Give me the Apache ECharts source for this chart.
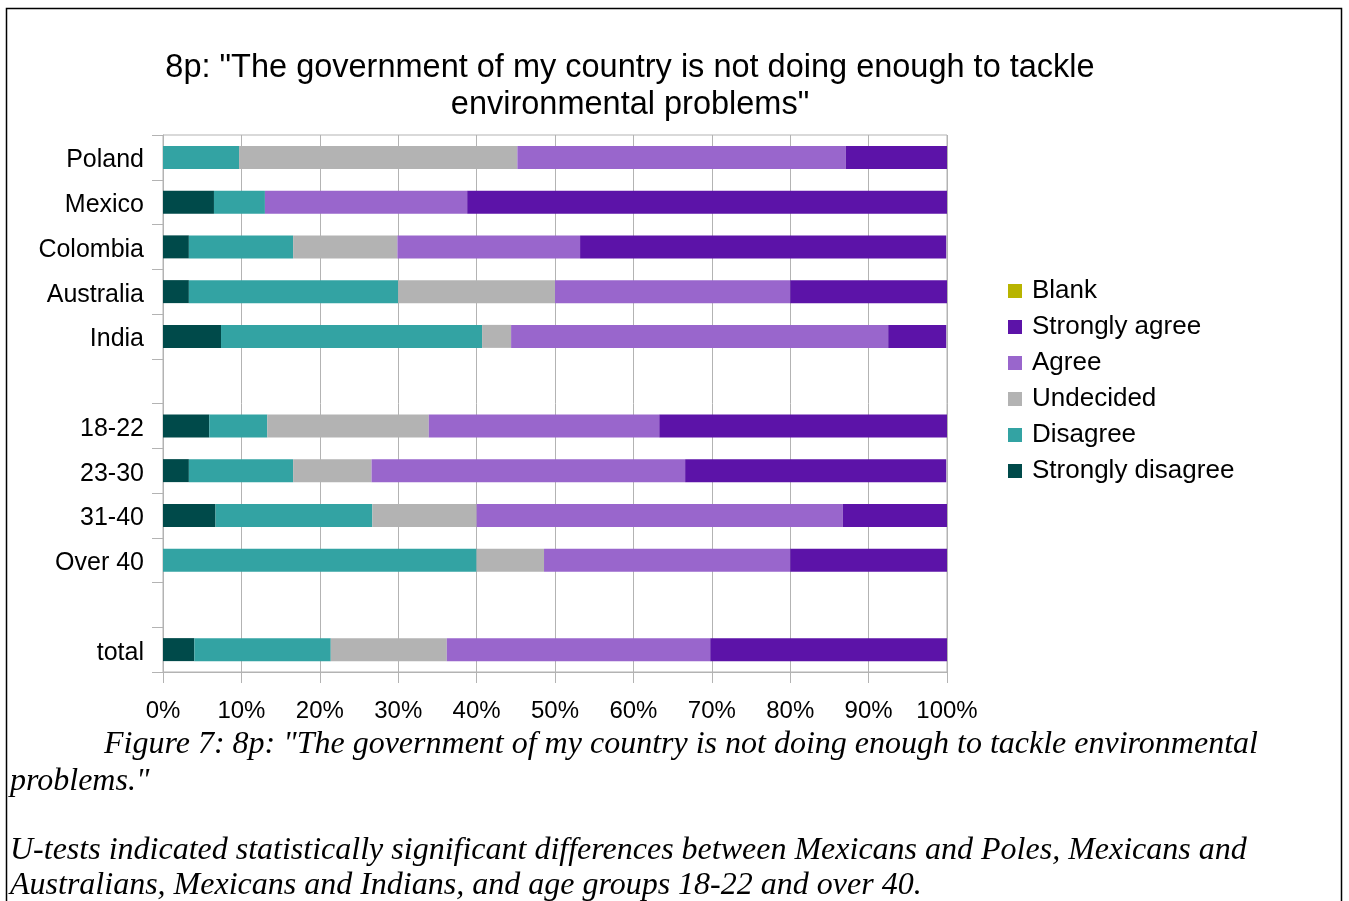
<!DOCTYPE html>
<html>
<head>
<meta charset="utf-8">
<script src="https://cdn.jsdelivr.net/npm/echarts@6/dist/echarts.min.js"></script>
<style>
  html, body { margin: 0; padding: 0; background: #fff; }
  #chart { width: 1349px; height: 901px; }
</style>
</head>
<body>
<div id="chart"></div>
<script>
const categories = ['Poland', 'Mexico', 'Colombia', 'Australia', 'India', '', '18-22', '23-30', '31-40', 'Over 40', '', 'total'];
const stronglyDisagree = [0, 6.5, 3.3, 3.3, 7.4, null, 5.9, 3.3, 6.7, 0, null, 4.0];
const disagree = [9.7, 6.5, 13.3, 26.7, 33.3, null, 7.4, 13.3, 20.0, 40.0, null, 17.4];
const undecided = [35.5, 0, 13.3, 20.0, 3.7, null, 20.6, 10.0, 13.3, 8.6, null, 14.8];
const agree = [41.9, 25.8, 23.3, 30.0, 48.1, null, 29.4, 40.0, 46.7, 31.4, null, 33.6];
const stronglyAgree = [12.9, 61.3, 46.7, 20.0, 7.4, null, 36.8, 33.3, 13.3, 20.0, null, 30.2];
const blank = [0, 0, 0, 0, 0, null, 0, 0, 0, 0, null, 0];
const xTicks = [0, 10, 20, 30, 40, 50, 60, 70, 80, 90, 100];

const seriesDefs = [
  { name: 'Strongly disagree', data: stronglyDisagree, color: '#004a4a' },
  { name: 'Disagree', data: disagree, color: '#33a3a3' },
  { name: 'Undecided', data: undecided, color: '#b3b3b3' },
  { name: 'Agree', data: agree, color: '#9966cc' },
  { name: 'Strongly agree', data: stronglyAgree, color: '#5c13a8' },
  { name: 'Blank', data: blank, color: '#b8b400' }
];

const chart = echarts.init(document.getElementById('chart'));
const sans = 'Liberation Sans, Arial, sans-serif';
const serif = 'Liberation Serif, Times New Roman, serif';
const capFont = 'italic 32px ' + serif;

chart.setOption({
  animation: false,
  backgroundColor: '#ffffff',
  title: {
    text: '8p: "The government of my country is not doing enough to tackle\nenvironmental problems"',
    left: 625,
    top: 45,
    textAlign: 'center',
    textStyle: { fontFamily: sans, fontSize: 32.5, fontWeight: 'normal', color: '#000', lineHeight: 37 }
  },
  legend: {
    orient: 'vertical',
    left: 1003,
    top: 273,
    itemWidth: 14,
    itemHeight: 14,
    itemGap: 10,
    icon: 'rect',
    data: ['Blank', 'Strongly agree', 'Agree', 'Undecided', 'Disagree', 'Strongly disagree'],
    textStyle: { fontFamily: sans, fontSize: 26, color: '#000', lineHeight: 26, padding: [0, 0, 0, 5] },
    selectedMode: false
  },
  grid: {
    left: 163, right: 402, top: 135, bottom: 229,
    show: true, borderColor: '#b3b3b3', borderWidth: 1, backgroundColor: 'transparent'
  },
  xAxis: {
    type: 'value',
    min: xTicks[0],
    max: xTicks[xTicks.length - 1],
    interval: 10,
    axisLine: { show: true, lineStyle: { color: '#b3b3b3', width: 1 } },
    axisTick: { show: true, length: 11, lineStyle: { color: '#b3b3b3' } },
    splitLine: { show: true, lineStyle: { color: '#b3b3b3', width: 1 } },
    axisLabel: { formatter: '{value}%', fontFamily: sans, fontSize: 24, color: '#000', margin: 27 }
  },
  yAxis: {
    type: 'category',
    inverse: true,
    data: categories,
    axisLine: { show: true, lineStyle: { color: '#b3b3b3', width: 1 } },
    axisTick: { show: true, length: 11, lineStyle: { color: '#b3b3b3' } },
    axisLabel: { fontFamily: sans, fontSize: 25, color: '#000', margin: 19, verticalAlign: 'top', lineHeight: 6 },
    splitLine: { show: false }
  },
  series: seriesDefs.map(s => ({
    name: s.name,
    type: 'bar',
    stack: 'total',
    data: s.data,
    barWidth: 23,
    silent: true,
    itemStyle: { color: s.color },
    emphasis: { disabled: true }
  })),
  graphic: [
    { type: 'rect', shape: { x: 6.5, y: 8.5, width: 1335, height: 1000 }, style: { fill: 'none', stroke: '#000', lineWidth: 1.5 }, silent: true },
    { type: 'text', left: 104, top: 729, style: { text: 'Figure 7: 8p: "The government of my country is not doing enough to tackle environmental', font: capFont, fill: '#000' } },
    { type: 'text', left: 10, top: 766, style: { text: 'problems."', font: capFont, fill: '#000' } },
    { type: 'text', left: 10, top: 835, style: { text: 'U-tests indicated statistically significant differences between Mexicans and Poles, Mexicans and', font: capFont, fill: '#000' } },
    { type: 'text', left: 10, top: 870, style: { text: 'Australians, Mexicans and Indians, and age groups 18-22 and over 40.', font: capFont, fill: '#000' } }
  ]
});
</script>
</body>
</html>
